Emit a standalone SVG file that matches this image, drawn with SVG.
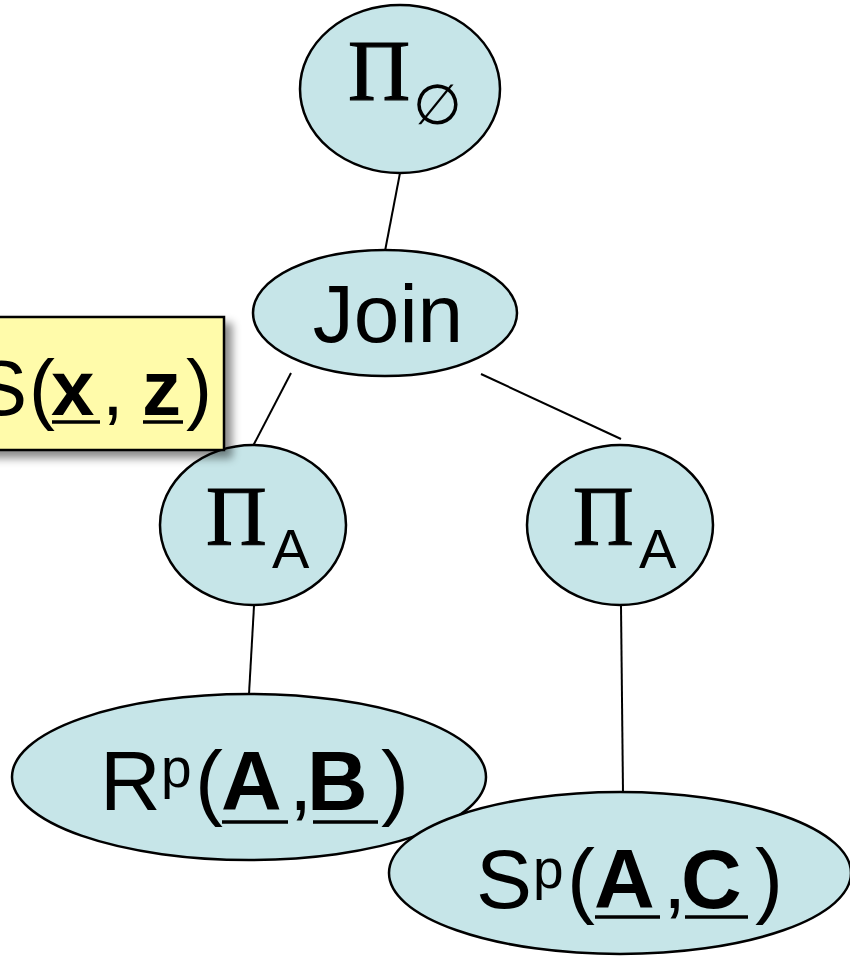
<svg xmlns="http://www.w3.org/2000/svg" width="850" height="957" viewBox="0 0 850 957">
<defs>
<filter id="sh" x="-20%" y="-20%" width="150%" height="150%">
<feDropShadow dx="7" dy="7" stdDeviation="4" flood-color="#000" flood-opacity="0.45"/>
</filter>
</defs>
<style>
.node{fill:#C6E5E8;stroke:#000;stroke-width:2.5}
.edge{stroke:#000;stroke-width:2}
.sans{font-family:"Liberation Sans",Arial,sans-serif;fill:#000}
.serif{font-family:"Liberation Serif","Times New Roman",serif;fill:#000;stroke:#000;stroke-width:1.2}
.b{font-weight:bold}
.ul{stroke:#000;stroke-width:3.5}
</style>
<rect width="850" height="957" fill="#fff"/>
<g id="connectors">
<line class="edge" x1="400" y1="173" x2="385" y2="251"/>
<line class="edge" x1="291" y1="373" x2="253" y2="446"/>
<line class="edge" x1="481" y1="374" x2="621" y2="439"/>
<line class="edge" x1="254" y1="606" x2="249" y2="694"/>
<line class="edge" x1="621" y1="606" x2="623" y2="792"/>
</g>
<g id="proj-empty">
<ellipse class="node" cx="400" cy="89" rx="100" ry="84"/>
<text class="serif" x="348" y="100" font-size="86">Π</text>
<text font-family="DejaVu Sans, sans-serif" x="413" y="124" font-size="56">∅</text>
</g>
<g id="join">
<ellipse class="node" cx="385" cy="313" rx="132" ry="63"/>
<text class="sans" x="388" y="342" font-size="82" text-anchor="middle">Join</text>
</g>
<g id="proj-a-left">
<ellipse class="node" cx="253" cy="525" rx="93" ry="80"/>
<text class="serif" x="206" y="545" font-size="84">Π</text>
<text class="sans" x="272" y="568" font-size="56">A</text>
</g>
<g id="proj-a-right">
<ellipse class="node" cx="620" cy="525" rx="93" ry="80"/>
<text class="serif" x="573" y="545" font-size="84">Π</text>
<text class="sans" x="639" y="568" font-size="56">A</text>
</g>
<g id="rel-r">
<ellipse class="node" cx="249" cy="777" rx="237" ry="83"/>
<text class="sans" font-size="84" y="810"><tspan x="100">R</tspan><tspan x="161" y="787" font-size="55">p</tspan><tspan x="195" y="810">(</tspan><tspan class="b" x="221">A</tspan><tspan x="289">,</tspan><tspan class="b" x="307">B</tspan><tspan x="381">)</tspan></text>
<line class="ul" x1="222" y1="822" x2="288" y2="822"/>
<line class="ul" x1="313" y1="822" x2="378" y2="822"/>
</g>
<g id="rel-s">
<ellipse class="node" cx="620" cy="873" rx="231" ry="81"/>
<text class="sans" font-size="84" y="908"><tspan x="476">S</tspan><tspan x="533" y="888" font-size="55">p</tspan><tspan x="567" y="908">(</tspan><tspan class="b" x="594">A</tspan><tspan x="663">,</tspan><tspan class="b" x="681">C</tspan><tspan x="755">)</tspan></text>
<line class="ul" x1="595" y1="917" x2="660" y2="917"/>
<line class="ul" x1="685" y1="917" x2="748" y2="917"/>
</g>
<g id="label">
<rect x="-20" y="317" width="244" height="133" fill="#FFFBAA" stroke="#000" stroke-width="2.5" filter="url(#sh)"/>
<text class="sans" font-size="78" y="415"><tspan x="-25">S</tspan><tspan x="29">(</tspan><tspan class="b" x="51">x</tspan><tspan x="102">,</tspan><tspan class="b" x="142">z</tspan><tspan x="186">)</tspan></text>
<line class="ul" x1="52" y1="422" x2="100" y2="422"/>
<line class="ul" x1="143" y1="422" x2="183" y2="422"/>
</g>
</svg>
